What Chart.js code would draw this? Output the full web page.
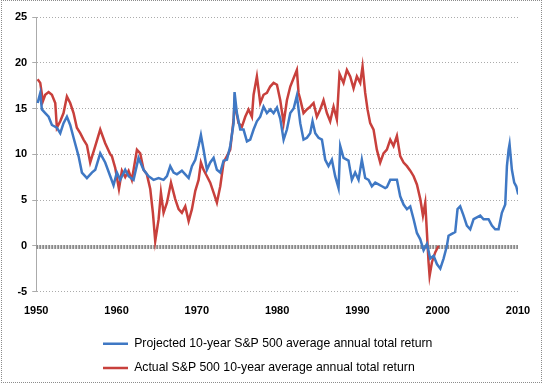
<!DOCTYPE html>
<html>
<head>
<meta charset="utf-8">
<script src="https://cdn.jsdelivr.net/npm/chart.js@4"></script>
<style>
  html, body { margin: 0; padding: 0; background: #fff; }
  #wrap { position: relative; width: 544px; height: 384px; }
  #frame { position: absolute; left: 1px; top: 0; width: 539px; height: 381px;
           border: 1px dotted #8c8c8c; pointer-events: none; }
</style>
</head>
<body>
<div id="wrap">
  <canvas id="returnsChart" width="544" height="384"></canvas>
  <div id="frame"></div>
</div>
<script>
const ctx = document.getElementById('returnsChart').getContext('2d');

// Projected 10-year S&P 500 return (blue)
const projectedYears = [
  1950.17, 1950.5, 1950.7, 1951.12, 1951.54, 1951.95, 1952.57, 1952.99, 1953.4, 1953.82,
  1954.23, 1954.65, 1955.27, 1955.69, 1956.31, 1956.93, 1957.35, 1957.97, 1958.59, 1959.22,
  1959.63, 1960.04, 1960.46, 1961.08, 1961.5, 1962.12, 1962.74, 1963.37, 1963.99, 1964.61,
  1965.24, 1965.86, 1966.28, 1966.69, 1967.11, 1967.52, 1968.14, 1968.56, 1968.98, 1969.39,
  1969.81, 1970.22, 1970.51, 1970.84, 1971.26, 1971.67, 1972.09, 1972.5, 1972.92, 1973.33,
  1973.75, 1974.16, 1974.58, 1974.7, 1974.99, 1975.41, 1975.82, 1976.24, 1976.65, 1977.07,
  1977.48, 1977.9, 1978.31, 1978.73, 1979.14, 1979.56, 1979.98, 1980.39, 1980.81, 1981.22,
  1981.64, 1982.06, 1982.46, 1982.88, 1983.29, 1983.71, 1984.12, 1984.41, 1984.75, 1985.16,
  1985.58, 1985.99, 1986.4, 1986.82, 1987.23, 1987.65, 1987.86, 1988.27, 1988.89, 1989.31,
  1989.72, 1990.14, 1990.55, 1990.97, 1991.39, 1991.8, 1992.22, 1992.63, 1993.05, 1993.46,
  1993.67, 1994.09, 1994.5, 1994.92, 1995.33, 1995.75, 1996.17, 1996.58, 1997.0, 1997.41,
  1997.83, 1998.24, 1998.66, 1999.07, 1999.49, 1999.9, 2000.32, 2000.73, 2001.15, 2001.35,
  2001.76, 2002.18, 2002.47, 2002.8, 2003.22, 2003.63, 2004.05, 2004.47, 2004.88, 2005.3,
  2005.71, 2006.33, 2006.75, 2007.16, 2007.58, 2007.99, 2008.41, 2008.62, 2008.83, 2008.95,
  2009.24, 2009.53, 2009.78, 2010.03
];
const projectedReturns = [
  15.6, 16.7, 14.9, 14.5, 14.1, 13.2, 12.9, 12.3, 13.4, 14.1,
  13.2, 11.8, 9.8, 8.0, 7.4, 8.0, 8.3, 10.1, 9.1, 7.6,
  6.6, 8.0, 7.2, 8.3, 7.6, 7.2, 9.6, 8.3, 7.6, 7.2,
  7.4, 7.2, 7.6, 8.7, 8.0, 7.8, 8.2, 7.8, 7.4, 8.7,
  9.4, 10.9, 12.1, 10.5, 8.3, 9.1, 9.6, 8.3, 8.0, 9.3,
  9.4, 10.9, 13.4, 16.8, 14.5, 12.7, 12.7, 11.4, 11.6, 12.7,
  13.6, 14.1, 15.2, 14.5, 14.9, 14.5, 15.1, 13.9, 11.6, 12.7,
  14.5, 15.0, 16.4, 13.4, 11.6, 11.8, 12.3, 13.6, 12.3, 11.8,
  11.6, 9.4, 8.7, 9.4, 7.6, 6.3, 10.9, 9.6, 9.3, 7.2,
  8.0, 7.2, 9.4, 7.4, 7.2, 6.5, 6.9, 6.7, 6.5, 6.3,
  6.4, 7.2, 7.2, 7.2, 5.4, 4.5, 4.0, 4.3, 2.9, 1.4,
  0.7, -0.5, 0.2, -1.4, -1.1, -2.0, -2.5, -1.4, 0.0, 1.1,
  1.3, 1.5, 4.0, 4.3, 3.3, 2.2, 1.8, 2.9, 3.1, 3.3,
  2.9, 2.9, 2.2, 1.8, 1.8, 3.6, 4.5, 8.7, 10.5, 11.1,
  8.3, 6.9, 6.5, 5.6
];

// Actual S&P 500 10-year return (red), ends in 2000
const actualYears = [
  1950.17, 1950.5, 1950.83, 1951.12, 1951.54, 1951.95, 1952.37, 1952.57, 1952.99, 1953.4,
  1953.82, 1954.23, 1954.65, 1955.06, 1955.48, 1955.89, 1956.31, 1956.72, 1957.35, 1957.97,
  1958.59, 1959.22, 1959.42, 1959.84, 1960.3, 1960.67, 1961.08, 1961.5, 1961.91, 1962.54,
  1962.95, 1963.37, 1963.78, 1964.2, 1964.53, 1964.82, 1965.24, 1965.53, 1965.86, 1966.28,
  1966.78, 1967.31, 1967.73, 1968.14, 1968.56, 1968.98, 1969.39, 1969.81, 1970.22, 1970.51,
  1970.84, 1971.26, 1971.67, 1972.09, 1972.5, 1972.92, 1973.33, 1973.75, 1974.16, 1974.58,
  1974.7, 1975.2, 1975.61, 1976.03, 1976.44, 1976.86, 1977.07, 1977.48, 1977.9, 1978.31,
  1978.73, 1979.14, 1979.56, 1979.98, 1980.39, 1980.81, 1981.22, 1981.64, 1982.05, 1982.46,
  1982.67, 1982.88, 1983.29, 1983.71, 1984.12, 1984.54, 1984.95, 1985.37, 1985.78, 1986.2,
  1986.61, 1987.03, 1987.44, 1987.77, 1988.27, 1988.69, 1989.1, 1989.52, 1989.93, 1990.35,
  1990.64, 1990.97, 1991.26, 1991.59, 1992.01, 1992.42, 1992.84, 1993.25, 1993.67, 1994.09,
  1994.5, 1994.92, 1995.33, 1995.75, 1996.17, 1996.58, 1997.0, 1997.41, 1997.83, 1998.16,
  1998.45, 1998.66, 1998.86, 1998.99, 1999.28, 1999.7, 2000.11
];
const actualReturns = [
  18.2, 17.8, 15.8, 16.5, 16.8, 16.5, 15.6, 12.9, 13.6, 14.5,
  16.3, 15.6, 14.5, 12.9, 12.3, 11.6, 11.0, 9.1, 10.9, 12.7,
  11.2, 10.0, 9.8, 8.5, 6.2, 8.2, 7.5, 8.2, 7.2, 10.5,
  10.1, 8.3, 7.8, 6.2, 3.6, 0.5, 2.9, 5.8, 3.6, 4.7,
  6.9, 5.1, 4.0, 3.6, 4.3, 2.7, 4.0, 6.0, 7.2, 9.1,
  8.3, 7.6, 6.9, 5.8, 4.7, 6.5, 9.1, 9.8, 10.5, 13.8,
  15.6, 13.4, 13.0, 14.1, 14.9, 14.1, 16.5, 18.5, 15.6, 16.5,
  16.7, 17.4, 17.8, 17.6, 15.9, 13.4, 15.9, 17.4, 18.3, 19.2,
  16.7, 16.0, 14.5, 14.9, 15.2, 15.6, 14.1, 14.9, 15.9, 14.5,
  13.6, 15.2, 13.8, 18.8, 17.8, 19.2, 18.5, 17.2, 18.5, 17.8,
  19.6, 16.7, 14.9, 13.4, 12.7, 10.5, 9.1, 10.1, 10.5, 11.6,
  10.9, 12.0, 9.8, 9.1, 8.7, 8.2, 7.6, 6.7, 5.1, 3.3,
  4.7, 1.4, -1.8, -3.3, -1.8, -0.7, 0.0
];

// the hatched grey band just under zero
const bandYears = [1950, 2010];
const bandValues = [-0.15, -0.15];

const xTickValues = [1950, 1960, 1970, 1980, 1990, 2000, 2010];
const yTickValues = [-5, 0, 5, 10, 15, 20, 25];

const seriesLabels = [
  'Projected 10-year S&P 500 average annual total return',
  'Actual S&P 500 10-year average annual total return'
];

function toPoints(xs, ys) {
  return xs.map((x, i) => ({ x: x, y: ys[i] }));
}

// legend rows start at the same left edge, like the original
const legendShift = {
  id: 'legendShift',
  afterLayout(chart) {
    chart.legend.left = 91;
  }
};

Chart.defaults.font.family = "'Liberation Sans', Arial, sans-serif";
Chart.defaults.color = '#000';

const returnsChart = new Chart(ctx, {
  type: 'line',
  data: {
    datasets: [
      {
        label: seriesLabels[0],
        data: toPoints(projectedYears, projectedReturns),
        borderColor: '#3f78c4',
        backgroundColor: '#3f78c4',
        borderWidth: 2.5,
        tension: 0
      },
      {
        label: seriesLabels[1],
        data: toPoints(actualYears, actualReturns),
        borderColor: '#c8403c',
        backgroundColor: '#c8403c',
        borderWidth: 2.5,
        tension: 0
      },
      {
        label: 'band',
        data: toPoints(bandYears, bandValues),
        borderColor: '#8a8a8a',
        borderWidth: 4,
        borderDash: [2, 1],
        tension: 0
      }
    ]
  },
  plugins: [legendShift],
  options: {
    responsive: false,
    animation: false,
    events: [],
    layout: {
      padding: { top: 17, right: 26, left: 10, bottom: 0 }
    },
    elements: {
      point: { radius: 0 }
    },
    plugins: {
      tooltip: { enabled: false },
      legend: {
        position: 'bottom',
        align: 'start',
        labels: {
          usePointStyle: true,
          pointStyle: 'line',
          pointStyleWidth: 25,
          boxHeight: 12,
          padding: 12,
          font: { size: 12.25 },
          filter: (item) => item.datasetIndex < 2
        }
      }
    },
    scales: {
      x: {
        type: 'linear',
        min: 1950,
        max: 2010,
        afterBuildTicks: (scale) => { scale.ticks = xTickValues.map(v => ({ value: v })); },
        afterFit: (scale) => { scale.height = 34; },
        grid: { display: false, drawTicks: false },
        border: { display: false },
        ticks: {
          padding: 13,
          maxRotation: 0,
          font: { size: 11, weight: 'bold' },
          callback: (v) => String(v)
        }
      },
      y: {
        min: -5,
        max: 25,
        afterBuildTicks: (scale) => { scale.ticks = yTickValues.map(v => ({ value: v })); },
        grid: {
          color: '#ababab',
          tickColor: '#ababab',
          tickLength: 4
        },
        border: { color: '#ababab', dash: [1, 2] },
        ticks: {
          padding: 5,
          font: { size: 11, weight: 'bold' },
          callback: (v) => String(v)
        }
      }
    }
  }
});
</script>
</body>
</html>
